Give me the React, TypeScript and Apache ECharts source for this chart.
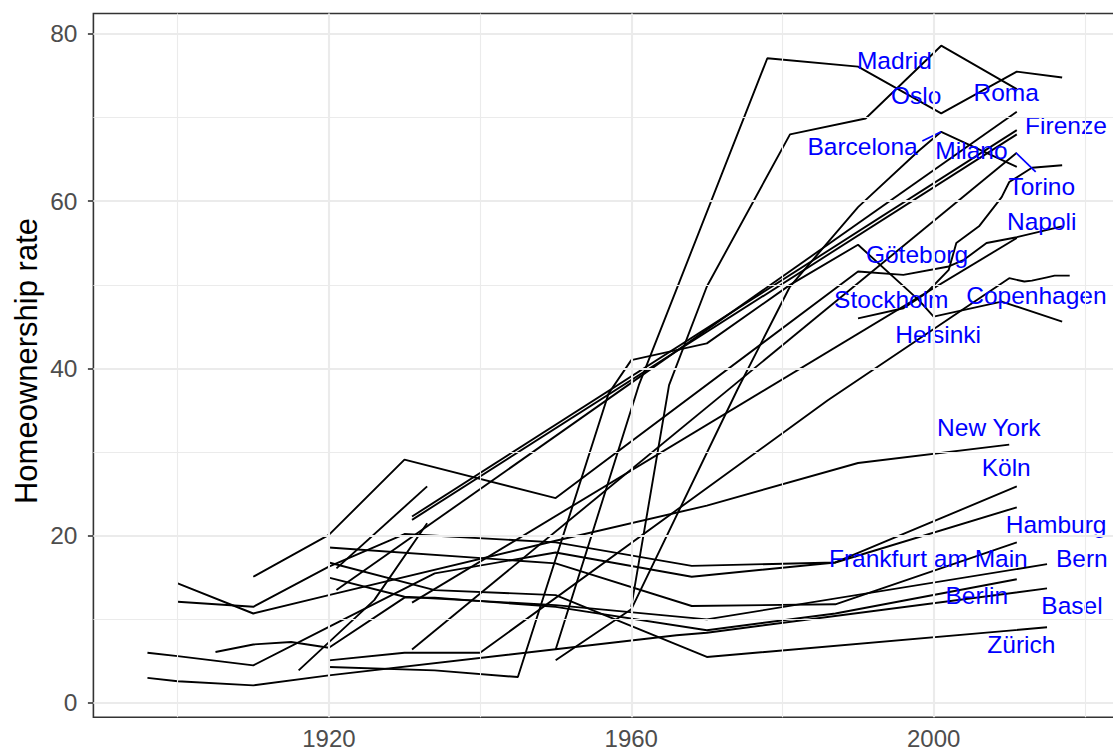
import React, { useEffect, useRef } from "react";
import * as echarts from "echarts";

// ---- series values: [year, homeownership rate] ----
const basel = [[1896, 3.0], [1900, 2.6], [1910, 2.1], [1920, 3.3], [1966, 8.1], [1970, 8.4], [2015, 13.7]];
const zurich = [[1920, 16.8], [1934, 13.5], [1950, 12.9], [1970, 5.5], [2015, 9.05]];
const bern = [[1920, 15.0], [1930, 12.7], [1950, 11.7], [1970, 10.0], [2015, 16.6]];
const newYork = [[1900, 14.3], [1910, 10.7], [1920, 12.9], [1950, 19.4], [1970, 23.6], [1990, 28.7], [2010, 30.9]];
const koln = [[1900, 12.1], [1910, 11.5], [1920, 16.3], [1930, 20.2], [1950, 19.2], [1968, 16.4], [1987, 16.8], [2011, 25.9]];
const hamburg = [[1920, 18.6], [1950, 16.7], [1968, 11.6], [1987, 11.8], [2011, 19.2]];
const frankfurt = [[1896, 6.0], [1900, 5.6], [1910, 4.5], [1920, 9.1], [1934, 15.5], [1950, 18.0], [1968, 15.1], [1987, 16.8], [2011, 23.4]];
const berlin = [[1905, 6.1], [1910, 7.0], [1915, 7.3], [1920, 6.6], [1930, 12.6], [1934, 12.6], [1950, 11.5], [1970, 8.7], [1987, 10.7], [2011, 14.8]];
const copenhagen = [[1920, 5.1], [1930, 6.0], [1940, 6.0], [1986, 36.2], [2010, 50.8], [2012, 50.4], [2013, 50.5], [2015, 50.9], [2016, 51.1], [2018, 51.1]];
const helsinki = [[1920, 4.3], [1934, 3.9], [1945, 3.1], [1957, 37.0], [1960, 41.0], [1970, 43.0], [1981, 50.0], [1990, 54.8], [1998, 48.2], [2000, 46.2], [2009, 48.0], [2017, 45.6]];
const goteborg = [[1910, 15.1], [1920, 20.1], [1930, 29.1], [1950, 24.5], [1990, 51.6], [1996, 51.2], [2002, 52.2], [2004, 53.0], [2007, 55.0], [2011, 55.7], [2017, 57.0]];
const stockholm = [[1990, 46.0], [1996, 47.2], [1999, 49.0], [2002, 51.8], [2003, 55.0], [2006, 57.0], [2009, 60.5], [2010, 62.3], [2013, 64.0], [2017, 64.3]];
const madrid = [[1950, 6.4], [1961, 38.0], [1978, 77.1], [1990, 76.1], [2001, 70.5], [2011, 75.5], [2017, 74.8]];
const oslo = [[1960, 11.5], [1965, 38.0], [1970, 49.8], [1981, 68.0], [1991, 69.9], [2001, 78.6], [2011, 73.4]];
const barcelona = [[1950, 5.1], [1960, 11.2], [1974, 37.4], [1981, 49.8], [1990, 59.3], [1998, 66.0], [2001, 68.3], [2011, 64.1]];
const roma = [[1931, 22.3], [2011, 68.5]];
const milano = [[1931, 21.9], [2011, 68.0]];
const firenze = [[1921, 13.5], [2011, 70.7]];
const napoli = [[1931, 12.0], [2011, 55.6]];
const torino = [[1931, 6.4], [2011, 65.8]];
const shortA = [[1916, 3.9], [1926, 12.3], [1933, 21.5]];
const shortB = [[1921, 16.1], [1933, 25.9]];

const citySeries: [string, number[][]][] = [
  ["Basel", basel], ["Zürich", zurich], ["Bern", bern], ["New York", newYork],
  ["Köln", koln], ["Hamburg", hamburg], ["Frankfurt am Main", frankfurt], ["Berlin", berlin],
  ["Copenhagen", copenhagen], ["Helsinki", helsinki], ["Göteborg", goteborg], ["Stockholm", stockholm],
  ["Madrid", madrid], ["Oslo", oslo], ["Barcelona", barcelona], ["Roma", roma], ["Milano", milano],
  ["Firenze", firenze], ["Napoli", napoli], ["Torino", torino], ["A", shortA], ["B", shortB],
];

// ---- text labels: [name, year, rate] (label centre) ----
const labelAnchors: [string, number, number][] = [
  ["Madrid", 1994.8, 76.8], ["Oslo", 1997.7, 72.6], ["Roma", 2009.6, 73.0],
  ["Barcelona", 1990.6, 66.5], ["Milano", 2005.0, 66.1], ["Firenze", 2017.5, 69.0],
  ["Torino", 2014.3, 61.8], ["Napoli", 2014.3, 57.6], ["Göteborg", 1997.8, 53.6],
  ["Stockholm", 1994.4, 48.2], ["Copenhagen", 2013.6, 48.7], ["Helsinki", 2000.6, 44.1],
  ["New York", 2007.3, 32.9], ["Köln", 2009.6, 28.1], ["Hamburg", 2016.2, 21.4],
  ["Frankfurt am Main", 1999.3, 17.3], ["Bern", 2019.6, 17.3], ["Berlin", 2005.7, 12.8],
  ["Basel", 2018.3, 11.6], ["Zürich", 2011.6, 7.0],
];

// label leader segments
const barcelonaLeader = [[1998.5, 67.2], [2001.0, 68.3]];
const torinoLeader = [[2010.9, 65.8], [2013.5, 63.5]];

const xTicks = [1920, 1960, 2000];
const xMinor = [1900, 1940, 1980, 2020];
const yTicks = [0, 20, 40, 60, 80];
const yMinor = [10, 30, 50, 70];

const FONT = '"Liberation Sans", Arial, Helvetica, sans-serif';

function buildOption() {
  const series: any[] = [];
  series.push({
    type: "line",
    data: [],
    silent: true,
    z: 0,
    markLine: {
      silent: true,
      symbol: ["none", "none"],
      label: { show: false },
      emphasis: { disabled: true },
      lineStyle: { color: "#EBEBEB", width: 1.1, type: "solid" },
      data: [...yMinor.map((v) => ({ yAxis: v })), ...xMinor.map((v) => ({ xAxis: v }))],
    },
  });
  series.push({
    type: "line",
    data: [],
    silent: true,
    z: 0,
    markLine: {
      silent: true,
      symbol: ["none", "none"],
      label: { show: false },
      emphasis: { disabled: true },
      lineStyle: { color: "#EBEBEB", width: 2.1, type: "solid" },
      data: [...yTicks.map((v) => ({ yAxis: v })), ...xTicks.map((v) => ({ xAxis: v }))],
    },
  });
  citySeries.forEach(([name, data]) => {
    series.push({
      name,
      type: "line",
      data,
      symbol: "none",
      silent: true,
      z: 2,
      lineStyle: { color: "#000000", width: 1.9 },
    });
  });
  [barcelonaLeader, torinoLeader].forEach((d) => {
    series.push({
      type: "line",
      data: d,
      symbol: "none",
      silent: true,
      z: 3,
      lineStyle: { color: "#0000FF", width: 1.7 },
    });
  });
  series.push({
    type: "scatter",
    symbolSize: 1,
    silent: true,
    z: 4,
    itemStyle: { color: "rgba(0,0,0,0)" },
    data: labelAnchors.map(([name, x, y]) => ({ name, value: [x, y] })),
    label: {
      show: true,
      position: [0.5, 0.5],
      align: "center",
      verticalAlign: "middle",
      formatter: "{b}",
      color: "#0000FF",
      opacity: 1,
      textBorderWidth: 0,
      textBorderColor: "transparent",
      fontSize: 24.5,
      fontFamily: FONT,
    },
  });

  return {
    animation: false,
    backgroundColor: "#FFFFFF",
    grid: {
      left: 93.4,
      top: 13.5,
      width: 1022.8,
      height: 703.7,
      show: true,
      borderColor: "#333333",
      borderWidth: 1.6,
      backgroundColor: "transparent",
      containLabel: false,
      outerBoundsMode: "none",
    },
    xAxis: {
      type: "value",
      min: 1888.85,
      max: 2024.15,
      axisLine: { show: false },
      splitLine: { show: false },
      axisTick: { show: true, length: 5.5, lineStyle: { color: "#333333", width: 1.6 }, customValues: xTicks },
      axisLabel: {
        customValues: xTicks,
        fontSize: 24,
        lineHeight: 22,
        color: "#4D4D4D",
        margin: 10,
        fontFamily: FONT,
        formatter: (v: number) => String(v),
      },
    },
    yAxis: {
      type: "value",
      min: -1.7,
      max: 82.45,
      axisLine: { show: false },
      splitLine: { show: false },
      axisTick: { show: true, length: 5.5, lineStyle: { color: "#333333", width: 1.6 }, customValues: yTicks },
      axisLabel: {
        customValues: yTicks,
        fontSize: 24.5,
        color: "#4D4D4D",
        margin: 16,
        fontFamily: FONT,
        formatter: (v: number) => String(v),
      },
    },
    graphic: [
      {
        type: "text",
        x: 26,
        y: 361,
        rotation: Math.PI / 2,
        style: {
          text: "Homeownership rate",
          fontSize: 31,
          fontFamily: FONT,
          fill: "#000000",
          align: "center",
          verticalAlign: "middle",
        },
      },
    ],
    series,
  };
}

export default function App() {
  const ref = useRef<HTMLDivElement>(null);
  useEffect(() => {
    const chart = echarts.init(ref.current as HTMLDivElement, null, { renderer: "svg" });
    chart.setOption(buildOption() as any);
    return () => chart.dispose();
  }, []);
  return (
    <div
      ref={ref}
      style={{ position: "fixed", left: 0, top: 0, width: 1113, height: 753, background: "#FFFFFF" }}
    />
  );
}
